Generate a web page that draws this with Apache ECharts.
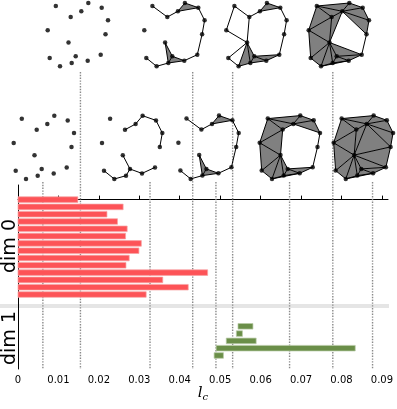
<!DOCTYPE html>
<html>
<head>
<meta charset="utf-8">
<script src="https://cdn.jsdelivr.net/npm/echarts@6/dist/echarts.min.js"></script>
<style>
html, body { margin: 0; padding: 0; background: #fff; }
#main { width: 397px; height: 409px; }
</style>
</head>
<body>
<div id="main"></div>
<script>
// barcode (units of l_c)
var dim0Death = [0.0148, 0.0260, 0.0220, 0.0246, 0.0270, 0.0266, 0.0305, 0.0299, 0.0275, 0.0267, 0.0469, 0.0358, 0.0421, 0.0317];
var dim1Birth = [0.0544, 0.0540, 0.0515, 0.0490, 0.0485];
var dim1Death = [0.0581, 0.0555, 0.0589, 0.0834, 0.0508];
// scales of the snapshots (dotted lines)
var snapScale = [0.00615, 0.01544, 0.03265, 0.0432, 0.04895, 0.05308, 0.06716, 0.07785, 0.08768];
// the point cloud
var ptX = [55.8, 88.3, 101.7, 70.7, 81.3, 108.0, 47.7, 105.5, 68.5, 49.7, 75.7, 71.7, 87.7, 100.7, 60.0];
var ptY = [6.0, 3.0, 7.7, 17.0, 11.3, 20.3, 30.2, 34.3, 42.5, 58.0, 56.3, 63.0, 60.7, 54.7, 66.3];
var xTicks = [0, 0.01, 0.02, 0.03, 0.04, 0.05, 0.06, 0.07, 0.08, 0.09];

// layout of the snapshot drawings (offset of each drawing) and where its dotted line starts
var snapPos = [[-34, 112.7], [0, 0], [54.3, 112.7], [96.6, 0], [130.7, 112.6], [178.6, 0], [212, 112.6], [261, 0], [286, 112.6]];
var lineTop = [182, 72, 182, 72, 182, 72, 182, 72, 182];
var radiusPerUnit = 243; // drawing units per unit of l_c

function dist(p, q) { return Math.hypot(ptX[p] - ptX[q], ptY[p] - ptY[q]); }
function circ(a, b, c) {
  var ax = ptX[a], ay = ptY[a], bx = ptX[b], by = ptY[b], cx = ptX[c], cy = ptY[c];
  var d = 2 * (ax * (by - cy) + bx * (cy - ay) + cx * (ay - by));
  if (Math.abs(d) < 1e-9) return null;
  var a2 = ax * ax + ay * ay, b2 = bx * bx + by * by, c2 = cx * cx + cy * cy;
  var ux = (a2 * (by - cy) + b2 * (cy - ay) + c2 * (ay - by)) / d;
  var uy = (a2 * (cx - bx) + b2 * (ax - cx) + c2 * (bx - ax)) / d;
  return { x: ux, y: uy, r: Math.hypot(ax - ux, ay - uy) };
}
// radius of the smallest circle holding the triangle
function ballRadius(i, j, k, r) {
  var s = [dist(i, j), dist(j, k), dist(i, k)].sort(function (a, b) { return a - b; });
  return s[2] * s[2] >= s[0] * s[0] + s[1] * s[1] ? s[2] / 2 : r;
}

// Delaunay triangles, filtered by ball radius
var n = ptX.length;
var tris = [], edgeMap = {};
for (var i = 0; i < n; i++) for (var j = i + 1; j < n; j++) for (var k = j + 1; k < n; k++) {
  var c = circ(i, j, k);
  if (!c) continue;
  var empty = true;
  for (var m = 0; m < n; m++) {
    if (m === i || m === j || m === k) continue;
    if (Math.hypot(ptX[m] - c.x, ptY[m] - c.y) < c.r - 1e-9) { empty = false; break; }
  }
  if (!empty) continue;
  tris.push({ v: [i, j, k], a: ballRadius(i, j, k, c.r) });
  [[i, j], [i, k], [j, k]].forEach(function (e) { edgeMap[e[0] + '_' + e[1]] = e; });
}
var edges = Object.keys(edgeMap).map(function (key) {
  var e = edgeMap[key];
  return { v: e, a: dist(e[0], e[1]) / 2 };
});

var grids = [{ left: 18, right: 9, top: 185, bottom: 40 }];
var xAxes = [{
  type: 'value', gridIndex: 0, min: 0, max: 0.0915,
  axisLine: { lineStyle: { color: '#000', width: 1 } },
  axisTick: { inside: true, length: 4, customValues: xTicks, lineStyle: { color: '#000' } },
  axisLabel: {
    customValues: xTicks, fontSize: 10, color: '#000', margin: 6, fontFamily: 'DejaVu Sans',
    formatter: function (v) { return v === 0 ? '0' : v.toFixed(2); }
  },
  splitLine: { show: false },
  name: '{l|l}{c|c}', nameLocation: 'middle', nameGap: 14,
  nameTextStyle: {
    rich: {
      l: { fontFamily: 'DejaVu Serif', fontStyle: 'italic', fontSize: 15, color: '#000' },
      c: { fontFamily: 'DejaVu Serif', fontStyle: 'italic', fontSize: 10, color: '#000', padding: [8, 0, 0, 0] }
    }
  }
}];
var yAxes = [{
  type: 'value', gridIndex: 0, min: -2, max: 23.2, inverse: true,
  axisLine: { show: true, onZero: false, lineStyle: { color: '#000', width: 1 } },
  axisTick: { show: false }, axisLabel: { show: false }, splitLine: { show: false }
}];

var series = [];

// dotted lines at the snapshot scales
series.push({
  type: 'custom', xAxisIndex: 0, yAxisIndex: 0, z: 1, silent: true,
  data: snapScale.map(function (s) { return [s]; }),
  renderItem: function (params, api) {
    var bottom = api.coord([api.value(0), 23.2]);
    return {
      type: 'line',
      shape: { x1: bottom[0], y1: lineTop[params.dataIndex], x2: bottom[0], y2: bottom[1] },
      style: { stroke: '#8a8a8a', lineWidth: 1.4, lineDash: [1.4, 1.4] }
    };
  }
});

function barSeries(data, fill, edge) {
  return {
    type: 'custom', xAxisIndex: 0, yAxisIndex: 0, z: 3, silent: true,
    data: data,
    renderItem: function (params, api) {
      var p0 = api.coord([api.value(0), api.value(2)]);
      var p1 = api.coord([api.value(1), api.value(2)]);
      var h = 5.6;
      return {
        type: 'rect',
        shape: { x: p0[0], y: p0[1] - h / 2, width: p1[0] - p0[0], height: h },
        style: { fill: fill, stroke: edge, lineWidth: 0.7 }
      };
    }
  };
}
series.push(barSeries(dim0Death.map(function (d, i) { return [0, d, i]; }), '#fd5357', '#f6a3a5'));
series.push(barSeries(dim1Birth.map(function (b, i) { return [b, dim1Death[i], 17.35 + i]; }), '#6a8e48', '#b9cba8'));

// snapshots
snapScale.forEach(function (s, idx) {
  var gi = idx + 1;
  var r = s * radiusPerUnit;
  grids.push({ left: 45 + snapPos[idx][0], top: snapPos[idx][1], width: 67, height: 70 });
  xAxes.push({ type: 'value', gridIndex: gi, min: 45, max: 112, show: false });
  yAxes.push({ type: 'value', gridIndex: gi, min: 0, max: 70, inverse: true, show: false });
  var triData = tris.filter(function (t) { return t.a <= r; }).map(function (t) {
    return [ptX[t.v[0]], ptY[t.v[0]], ptX[t.v[1]], ptY[t.v[1]], ptX[t.v[2]], ptY[t.v[2]]];
  });
  var edgeData = edges.filter(function (e) { return e.a <= r; }).map(function (e) {
    return [ptX[e.v[0]], ptY[e.v[0]], ptX[e.v[1]], ptY[e.v[1]]];
  });
  series.push({
    type: 'custom', xAxisIndex: gi, yAxisIndex: gi, z: 4, silent: true, data: triData,
    renderItem: function (params, api) {
      var pts = [0, 2, 4].map(function (o) { return api.coord([api.value(o), api.value(o + 1)]); });
      return { type: 'polygon', shape: { points: pts }, style: { fill: '#808080' } };
    }
  });
  series.push({
    type: 'custom', xAxisIndex: gi, yAxisIndex: gi, z: 5, silent: true, data: edgeData,
    renderItem: function (params, api) {
      var a = api.coord([api.value(0), api.value(1)]);
      var b = api.coord([api.value(2), api.value(3)]);
      return { type: 'line', shape: { x1: a[0], y1: a[1], x2: b[0], y2: b[1] }, style: { stroke: '#000', lineWidth: 1 } };
    }
  });
  series.push({
    type: 'scatter', xAxisIndex: gi, yAxisIndex: gi, z: 6, silent: true,
    symbolSize: 4.5, itemStyle: { color: '#000' },
    data: ptX.map(function (x, i) { return [x, ptY[i]]; })
  });
});

var chart = echarts.init(document.getElementById('main'));
chart.setOption({
  animation: false,
  backgroundColor: '#fff',
  grid: grids,
  xAxis: xAxes,
  yAxis: yAxes,
  graphic: [
    { type: 'rect', z: -1, shape: { x: 0, y: 304, width: 389, height: 4 }, style: { fill: '#e5e5e5' } },
    { type: 'text', x: 10, y: 246, rotation: Math.PI / 2, style: { text: 'dim 0', font: '19px "DejaVu Sans"', fill: '#000', align: 'center', verticalAlign: 'middle' } },
    { type: 'text', x: 10, y: 338, rotation: Math.PI / 2, style: { text: 'dim 1', font: '19px "DejaVu Sans"', fill: '#000', align: 'center', verticalAlign: 'middle' } }
  ],
  series: series
});
</script>
</body>
</html>
